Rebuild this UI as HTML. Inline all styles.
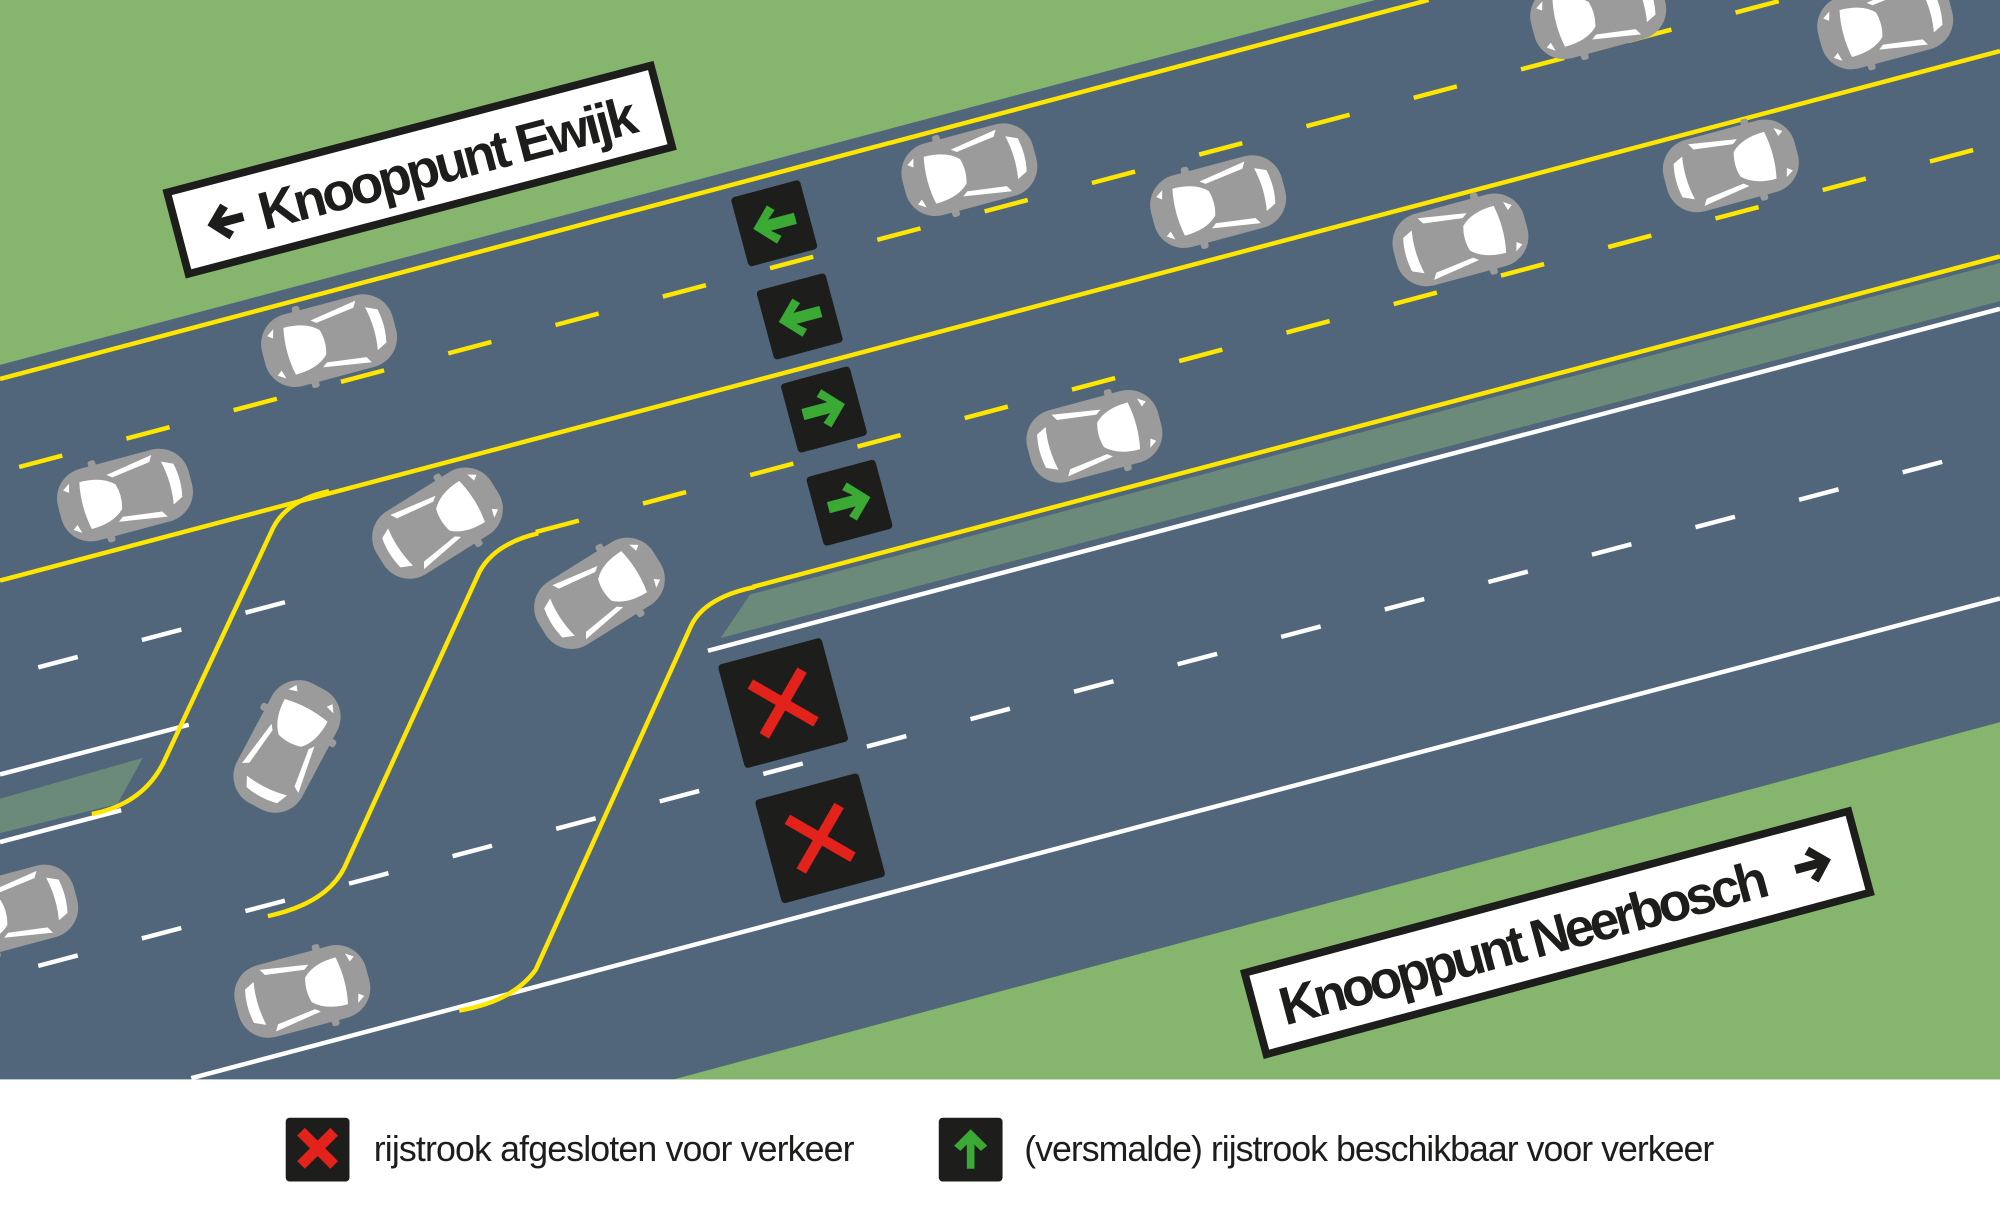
<!DOCTYPE html>
<html><head><meta charset="utf-8"><style>
html,body{margin:0;padding:0;background:#fff;}
svg{display:block;}
</style></head><body>
<svg width="2000" height="1230" viewBox="0 0 1568 964" preserveAspectRatio="none" xmlns="http://www.w3.org/2000/svg">
<defs>
<g id="car">
  <rect x="-53" y="-29" width="106" height="58" rx="24" fill="#9b9b9b"/>
  <rect x="-22" y="-33" width="6" height="6" rx="2" fill="#9b9b9b"/>
  <rect x="-22" y="27" width="6" height="6" rx="2" fill="#9b9b9b"/>
  <path d="M-32,-19 Q-14,-19 -5,-10 Q-2,0 -5,10 Q-14,19 -32,19 Q-36,0 -32,-19Z" fill="#fff"/>
  <path d="M34,-18 L43,-14 Q46,0 43,13 L35,17 Q38,0 34,-18Z" fill="#fff"/>
  <path d="M-10,-19 L28,-25 L25,-20 L-6,-16Z" fill="#fff"/>
  <path d="M-10,19 L28,25 L25,20 L-6,16Z" fill="#fff"/>
  <path d="M-46,-16 L-40,-20 L-42,-13Z" fill="#fff"/>
  <path d="M-46,16 L-40,20 L-42,13Z" fill="#fff"/>
</g>
<g id="garrow">
  <rect x="-28" y="-28" width="56" height="56" rx="3" fill="#1d1d1b"/>
  <path d="M-17,0 L-2,-15 L3,-10 L-4,-4 L17,-4 L17,5 L-4,5 L3,11 L-2,16Z" fill="#3aaa35"/>
</g>
<g id="redx">
  <rect x="-42" y="-42" width="84" height="84" rx="3" fill="#1d1d1b"/>
  <path d="M-24,-18 L-18,-24 L0,-6 L18,-24 L24,-18 L6,0 L24,18 L18,24 L0,6 L-18,24 L-24,18 L-6,0Z" fill="#e3221c"/>
</g>
</defs>

<rect x="0" y="0" width="1568" height="846" fill="#52667b"/>
<polygon points="0,0 1078,0 0,286" fill="#86b56d"/>
<polygon points="528,846 1568,566 1568,846" fill="#86b56d"/>

<polygon points="565,500 588,466 1568,206 1568,236" fill="#6c8a7a"/>
<polygon points="0,626 112,594 92,630 0,653" fill="#6c8a7a"/>

<g fill="none" stroke-width="3.5">
  <line x1="0" y1="297" x2="1120" y2="0" stroke="#ffe600"/>
  <line x1="0" y1="455" x2="1568" y2="40" stroke="#ffe600"/>
  <line x1="590" y1="460" x2="1568" y2="201" stroke="#ffe600"/>
  <line x1="15" y1="366" x2="1568" y2="-45" stroke="#ffe600" stroke-dasharray="35,52"/>
  <line x1="420" y1="417" x2="1568" y2="112" stroke="#ffe600" stroke-dasharray="35,52"/>
  <line x1="555" y1="510" x2="1568" y2="242" stroke="#fff"/>
  <line x1="150" y1="845" x2="1568" y2="469" stroke="#fff"/>
  <line x1="0" y1="607" x2="148" y2="568" stroke="#fff"/>
  <line x1="0" y1="660" x2="95" y2="635" stroke="#fff"/>
  <line x1="30" y1="523" x2="250" y2="465" stroke="#fff" stroke-dasharray="32,52"/>
  <line x1="30" y1="757" x2="1568" y2="350" stroke="#fff" stroke-dasharray="32,52"/>
  <path d="M258,385 Q225,392 214,414 L128,598 Q112,630 72,638" stroke="#ffe600"/>
  <path d="M422,418 Q388,426 376,448 L270,680 Q256,708 210,718" stroke="#ffe600"/>
  <path d="M592,460 Q553,468 542,490 L420,760 Q402,785 360,792" stroke="#ffe600"/>
</g>

<use href="#car" transform="translate(98,388) rotate(-15)"/>
<use href="#car" transform="translate(258,267) rotate(-15)"/>
<use href="#car" transform="translate(760,133) rotate(-15)"/>
<use href="#car" transform="translate(955,158) rotate(-15)"/>
<use href="#car" transform="translate(1253,10) rotate(-15)"/>
<use href="#car" transform="translate(1478,18) rotate(-15)"/>
<use href="#car" transform="translate(1145,188) rotate(165)"/>
<use href="#car" transform="translate(1357,130) rotate(165)"/>
<use href="#car" transform="translate(858,342) rotate(165)"/>
<use href="#car" transform="translate(343,410) rotate(148)"/>
<use href="#car" transform="translate(470,465) rotate(148)"/>
<use href="#car" transform="translate(225,585) rotate(118)"/>
<use href="#car" transform="translate(237,777) rotate(165)"/>
<use href="#car" transform="translate(8,714) rotate(-15)"/>

<use href="#garrow" transform="translate(607,175) rotate(-15)"/>
<use href="#garrow" transform="translate(627,248) rotate(-15)"/>
<use href="#garrow" transform="translate(646,321) rotate(165)"/>
<use href="#garrow" transform="translate(666,394) rotate(165)"/>
<use href="#redx" transform="translate(614,551) rotate(-15)"/>
<use href="#redx" transform="translate(643,657) rotate(-15)"/>

<g transform="translate(329,133) rotate(-14.7)">
  <rect x="-196" y="-33" width="392" height="66" fill="#fff" stroke="#1d1d1b" stroke-width="6"/>
  <path d="M-172,0 L-158,-14 L-153,-9 L-160,-3 L-143,-3 L-143,4 L-160,4 L-153,10 L-158,15Z" fill="#1d1d1b"/>
  <text x="-130" y="15" font-family="Liberation Sans, sans-serif" font-weight="bold" font-size="42" fill="#1d1d1b" textLength="305">Knooppunt Ewijk</text>
</g>
<g transform="translate(1221,731) rotate(-15)">
  <rect x="-245" y="-33" width="490" height="66" fill="#fff" stroke="#1d1d1b" stroke-width="6"/>
  <text x="-225" y="15" font-family="Liberation Sans, sans-serif" font-weight="bold" font-size="42" fill="#1d1d1b" textLength="395">Knooppunt Neerbosch</text>
  <path d="M222,0 L208,-14 L203,-9 L210,-3 L193,-3 L193,4 L210,4 L203,10 L208,15Z" fill="#1d1d1b"/>
</g>

<rect x="0" y="846" width="1568" height="118" fill="#fff"/>
<rect x="224" y="876" width="50" height="50" rx="3" fill="#1d1d1b"/>
<path d="M233,890 L239,884 L249,894 L259,884 L265,890 L255,900 L265,910 L259,916 L249,906 L239,916 L233,910 L243,900Z" fill="#e3221c"/>
<text x="293" y="910" font-family="Liberation Sans, sans-serif" font-size="28" fill="#1d1d1b" textLength="377">rijstrook afgesloten voor verkeer</text>
<rect x="736" y="876" width="50" height="50" rx="3" fill="#1d1d1b"/>
<path d="M761,885 L774,898 L769,902 L764,897 L764,916 L758,916 L758,897 L753,902 L748,898Z" fill="#3aaa35"/>
<text x="803" y="910" font-family="Liberation Sans, sans-serif" font-size="28" fill="#1d1d1b" textLength="541">(versmalde) rijstrook beschikbaar voor verkeer</text>
</svg>
</body></html>
